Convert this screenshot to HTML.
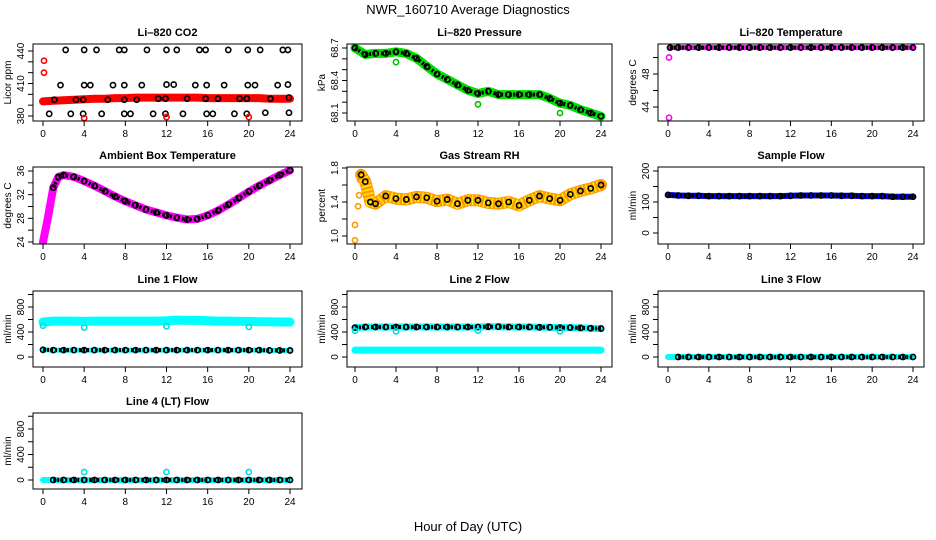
<!DOCTYPE html>
<html><head><meta charset="utf-8"><style>
body{margin:0;background:#fff;}
svg{display:block;font-family:"Liberation Sans",Arial,sans-serif;}
</style></head><body>
<svg id="c" width="936" height="540" viewBox="0 0 936 540" xmlns="http://www.w3.org/2000/svg">
<text x="468" y="14" font-size="13" text-anchor="middle">NWR_160710  Average Diagnostics</text>
<text x="468" y="531" font-size="13" text-anchor="middle">Hour of Day (UTC)</text>
</svg>
<script>
// ---- data ----
const hrs = [0,1,2,3,4,5,6,7,8,9,10,11,12,13,14,15,16,17,18,19,20,21,22,23,24];
const co2Red = [393.5,394,394.5,395,395.5,396,396,396.5,396.5,397,397,397,397,397,397,397,396.5,396.5,396.5,396.5,396.5,396.5,396,396,396];
const co2BlackHrs = [2.2,4,5.2,7.4,7.9,10.1,12,13,15.2,15.8,18,19.9,21.1,23.3,23.8, 1.7,4,4.6,6.8,7.9,9.6,12,12.7,14.8,15.9,17.6,19.9,20.6,22.8,23.8, 1.1,3.2,3.9,6.3,7.9,9.1,11.2,11.9,14,15.8,17,19.1,19.8,22.1,23.9, 0.6,2.7,3.9,5.7,7.9,8.5,10.7,11.9,13.6,15.9,16.5,18.6,19.8,21.6,23.9];
const co2BlackVals = [441,441,441,441,441,441,441,441,441,441,441,441,441,441,441, 408.5,408.5,408.5,408.5,408.5,408.5,409,409,408.5,408.5,408.5,408.5,408.5,408.5,409, 395,395,395,395,395,395,396,396,396,396,396,396,396,396,397, 382,382,382,382,382,382,382,382,382,382,382,382,382,383,383];
const co2OutHrs = [0.1,0.1,4,12,20];
const co2OutVals = [431,420,378,379,379];
const presVals = [68.70,68.64,68.65,68.65,68.665,68.65,68.605,68.53,68.46,68.41,68.36,68.31,68.28,68.30,68.27,68.27,68.27,68.27,68.27,68.235,68.19,68.17,68.13,68.10,68.07];
const presOutHrs = [4,12,20];
const presOutVals = [68.57,68.18,68.10];
const tempHrs = [0.2,1,2,3,4,5,6,7,8,9,10,11,12,13,14,15,16,17,18,19,20,21,22,23,24];
const tempVals = [51.2,51.2,51.2,51.2,51.2,51.2,51.2,51.2,51.2,51.2,51.2,51.2,51.2,51.2,51.2,51.2,51.2,51.2,51.2,51.2,51.2,51.2,51.2,51.2,51.2];
const tempOutHrs = [0.1,0.1];
const tempOutVals = [50,42.7];
const ambHrs = [0,0.5,1,1.5,2,3,4,5,6,7,8,9,10,11,12,13,14,15,16,17,18,19,20,21,22,23,24];
const ambVals = [24,28.3,33.2,35,35.3,35,34.3,33.5,32.6,31.7,30.9,30.2,29.5,29,28.5,28.1,27.8,27.9,28.5,29.3,30.3,31.4,32.5,33.5,34.4,35.3,36.1];
const rhHrs = [0.6,1,1.5,2,3,4,5,6,7,8,9,10,11,12,13,14,15,16,17,18,19,20,21,22,23,24];
const rhVals = [1.72,1.64,1.4,1.38,1.47,1.44,1.43,1.46,1.45,1.41,1.43,1.38,1.42,1.42,1.39,1.38,1.40,1.36,1.42,1.47,1.44,1.42,1.49,1.53,1.56,1.60];
const rhOutHrs = [0,0,0.3,0.4,0.5];
const rhOutVals = [0.95,1.13,1.35,1.48,1.66];
const flowVals = [123,121,120,120,119,119,119,119,119,119,119,119,120,121,121,121,121,120,120,119,119,119,117,117,117];
const l1Cyan = [560,575,575,575,570,575,575,575,575,575,575,575,580,590,585,585,580,575,575,570,570,565,565,560,560];
const l1Black = [115,110,110,110,110,110,110,110,110,110,110,110,110,110,110,110,110,110,110,110,110,110,105,105,105];
const l1OutHrs = [0,4,12,20];
const l1OutVals = [500,470,490,480];
const l2Black = [470,480,480,480,480,480,480,480,480,480,480,480,480,485,485,480,480,480,475,475,470,470,465,460,455];
const l2Cyan = [110,110,110,110,110,110,110,110,110,110,110,110,110,110,110,110,110,110,110,110,110,110,110,110,110];
const l2OutHrs = [0,4,12,20];
const l2OutVals = [420,410,420,410];
const l3Vals = [0,0,0,0,0,0,0,0,0,0,0,0,0,0,0,0,0,0,0,0,0,0,0,0,0];
const l4OutHrs = [4,12,20];
const l4OutVals = [125,125,125];
const xTicks = [0,4,8,12,16,20,24];

// ---- layout ----
const NS = 'http://www.w3.org/2000/svg';
const svg = document.getElementById('c');
const cols = [{l:33,r:302,x0:43,x24:290,lab:8},{l:347,r:612,x0:355,x24:601,lab:322},{l:658,r:924,x0:668,x24:913,lab:633}];
const rows = [{t:44,b:121},{t:167,b:244},{t:291,b:367},{t:413,b:489}];
function mk(tag, attrs, parent){const e=document.createElementNS(NS,tag);for(const k in attrs)e.setAttribute(k,attrs[k]);(parent||svg).appendChild(e);return e;}

function panel(cfg){
  const c=cols[cfg.col], r=rows[cfg.row];
  const g=mk('g',{});
  
  
  const xs=h=>c.x0+(c.x24-c.x0)*h/24;
  const [v1,p1,v2,p2]=cfg.ymap;
  const ys=v=>p1+(v-v1)*(p2-p1)/(v2-v1);
  const title=mk('text',{x:(c.l+c.r)/2,y:r.t-8,'font-size':11,'font-weight':'bold','text-anchor':'middle'},g);
  title.textContent=cfg.title;
  
  
  const cp='clip'+cfg.name;
  const cl=mk('clipPath',{id:cp},g); mk('rect',{x:c.l,y:r.t,width:c.r-c.l,height:r.b-r.t},cl);
  const plot=mk('g',{'clip-path':'url(#'+cp+')'},g);
  (cfg.series||[]).forEach(s=>{
    const pts=s.h.map((h,i)=>xs(h).toFixed(1)+','+ys(s.v[i]).toFixed(1)).join(' ');
    if(s.band){
      const b=mk('polyline',{points:pts,fill:'none',stroke:s.color,'stroke-width':s.band,'stroke-linejoin':'round','stroke-linecap':'round'},plot);
      
      
      if(s.dash) mk('polyline',{points:pts,fill:'none',stroke:s.dash,'stroke-width':s.band-2,'stroke-dasharray':'1.5 2.5'},plot);
    }
    if(s.chain){ mk('polyline',{points:pts,fill:'none',stroke:s.color,'stroke-width':4,'stroke-dasharray':'2 2'},plot); }
    if(s.circles){
      s.h.forEach((h,i)=>{
        const ci=mk('circle',{cx:xs(h),cy:ys(s.v[i]),r:2.6,fill:'none',stroke:s.color,'stroke-width':1.6},plot);
        
        
      });
    }
  });
  mk('rect',{x:c.l,y:r.t,width:c.r-c.l,height:r.b-r.t,fill:'none',stroke:'#000','stroke-width':1},g);
  xTicks.forEach(t=>{
    mk('line',{x1:xs(t),x2:xs(t),y1:r.b,y2:r.b+5,stroke:'#000'},g);
    const tx=mk('text',{x:xs(t),y:r.b+16,'font-size':10,'text-anchor':'middle'},g); tx.textContent=t;
    
    
  });
  cfg.yt.forEach(t=>{
    mk('line',{x1:c.l-5,x2:c.l,y1:ys(t),y2:ys(t),stroke:'#000'},g);
  });
  cfg.yl.forEach(t=>{
    const x=c.l-9,y=ys(t);
    const tx=mk('text',{x:x,y:y,'font-size':10,'text-anchor':'middle',transform:`rotate(-90 ${x} ${y})`},g);
    tx.textContent=t;
    
    
  });
  const yl=c.lab+3, ym=(r.t+r.b)/2;
  const lab=mk('text',{x:yl,y:ym,'font-size':10,'text-anchor':'middle',transform:`rotate(-90 ${yl} ${ym})`},g);
  lab.textContent=cfg.ylab;
  
  
}
const flowT=[0,200,400,600,800,1000], flowL=[0,400,800];
const one=(h,v)=>({h,v});
panel({name:'co2-panel',title:'Li\u2013820 CO2',col:0,row:0,ymap:[440,51,380,116],yt:[380,390,400,410,420,430,440],yl:[380,410,440],ylab:'Licor ppm',
  series:[{h:hrs,v:co2Red,band:8,color:'#f00'},{h:co2BlackHrs,v:co2BlackVals,circles:1,color:'#000'},{h:co2OutHrs,v:co2OutVals,circles:1,color:'#f00'}]});
panel({name:'pressure-panel',title:'Li\u2013820 Pressure',col:1,row:0,ymap:[68.7,48,68.1,113],yt:[68.1,68.2,68.3,68.4,68.5,68.6,68.7],yl:['68.1','68.4','68.7'],ylab:'kPa',
  series:[{h:hrs,v:presVals,band:9,color:'#00e000'},{h:hrs,v:presVals,chain:1,circles:1,color:'#000'},{h:presOutHrs,v:presOutVals,circles:1,color:'#00c000'}]});
panel({name:'li820-temp-panel',title:'Li\u2013820 Temperature',col:2,row:0,ymap:[48,74,44,107],yt:[44,46,48,50],yl:[44,48],ylab:'degrees C',
  series:[{h:tempHrs,v:tempVals,band:5,color:'#f0f'},{h:tempHrs,v:tempVals,chain:1,circles:1,color:'#000'},{h:tempOutHrs,v:tempOutVals,circles:1,color:'#f0f'}]});
panel({name:'ambient-temp-panel',title:'Ambient Box Temperature',col:0,row:1,ymap:[36,171,24,242],yt:[24,26,28,30,32,34,36],yl:[24,28,32,36],ylab:'degrees C',
  series:[{h:ambHrs,v:ambVals,band:8,color:'#f0f'},{h:ambHrs.slice(2),v:ambVals.slice(2),chain:1,circles:1,color:'#000'}]});
panel({name:'rh-panel',title:'Gas Stream RH',col:1,row:1,ymap:[1.8,168,1.0,236],yt:[1.0,1.2,1.4,1.6,1.8],yl:['1.0','1.4','1.8'],ylab:'percent',
  series:[{h:rhHrs,v:rhVals,band:12,color:'#ff9900',dash:'#ffee00'},{h:rhOutHrs,v:rhOutVals,circles:1,color:'#ff9900'},{h:rhHrs,v:rhVals,circles:1,color:'#000'}]});
panel({name:'sample-flow-panel',title:'Sample Flow',col:2,row:1,ymap:[200,171,0,233],yt:[0,50,100,150,200],yl:[0,100,200],ylab:'ml/min',
  series:[{h:hrs,v:flowVals,band:6,color:'#0000ee'},{h:hrs,v:flowVals,chain:1,circles:1,color:'#000'}]});
panel({name:'line1-flow-panel',title:'Line 1 Flow',col:0,row:2,ymap:[800,307,0,357],yt:flowT,yl:flowL,ylab:'ml/min',
  series:[{h:hrs,v:l1Cyan,band:9,color:'#00ffff'},{h:hrs,v:l1Black,band:5,color:'#00ffff'},{h:hrs,v:l1Black,chain:1,circles:1,color:'#000'},{h:l1OutHrs,v:l1OutVals,circles:1,color:'#00e0e0'}]});
panel({name:'line2-flow-panel',title:'Line 2 Flow',col:1,row:2,ymap:[800,307,0,357],yt:flowT,yl:flowL,ylab:'ml/min',
  series:[{h:hrs,v:l2Cyan,band:7,color:'#00ffff'},{h:hrs,v:l2Black,band:7,color:'#00ffff'},{h:hrs,v:l2Black,chain:1,circles:1,color:'#000'},{h:l2OutHrs,v:l2OutVals,circles:1,color:'#00e0e0'}]});
panel({name:'line3-flow-panel',title:'Line 3 Flow',col:2,row:2,ymap:[800,307,0,357],yt:flowT,yl:flowL,ylab:'ml/min',
  series:[{h:hrs,v:l3Vals,band:6,color:'#00ffff'},{h:hrs.slice(1),v:l3Vals.slice(1),chain:1,circles:1,color:'#000'}]});
panel({name:'line4-flow-panel',title:'Line 4 (LT) Flow',col:0,row:3,ymap:[800,429,0,480],yt:flowT,yl:flowL,ylab:'ml/min',
  series:[{h:hrs,v:l3Vals,band:6,color:'#00ffff'},{h:hrs.slice(1),v:l3Vals.slice(1),chain:1,circles:1,color:'#000'},{h:l4OutHrs,v:l4OutVals,circles:1,color:'#00e0e0'}]});
</script>
</body></html>
